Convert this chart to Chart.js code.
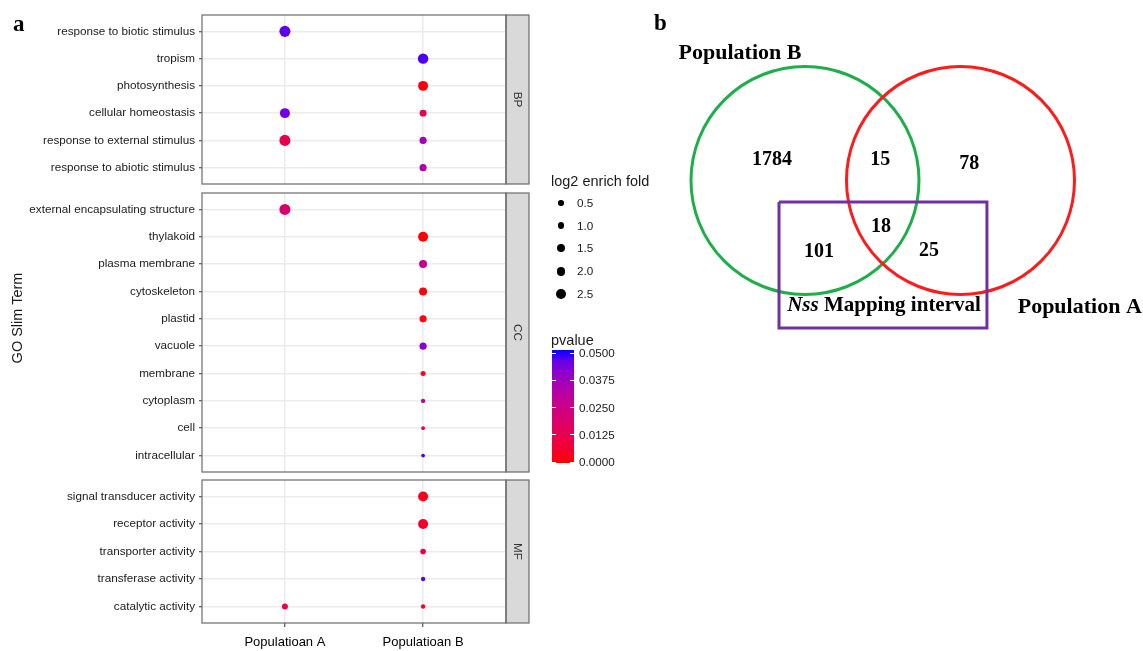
<!DOCTYPE html>
<html>
<head>
<meta charset="utf-8">
<script src="https://cdn.jsdelivr.net/npm/chart.js@4.4.1/dist/chart.umd.min.js"></script>
<style>
  body { margin: 0; background: #fff; }
  #page { position: relative; width: 1143px; height: 651px; overflow: hidden; font-family: "Liberation Sans", Arial, sans-serif; color: #1a1a1a; }
  canvas, .txt { position: absolute; }
  .txt { white-space: nowrap; }
  .serif { font-family: "Liberation Serif", "Times New Roman", serif; font-weight: bold; color: #000; }
</style>
</head>
<body>
<div id="page">
  <canvas id="bp" width="532" height="173" style="left:0;top:13px"></canvas>
  <canvas id="cc" width="532" height="283" style="left:0;top:191px"></canvas>
  <canvas id="mf" width="532" height="173" style="left:0;top:478px"></canvas>
  <canvas id="venn" width="503" height="340" style="left:640px;top:0"></canvas>
  <div class="txt serif" style="left:13px;top:12px;font-size:23px;line-height:23px">a</div>
  <div class="txt serif" style="left:654px;top:11px;font-size:23px;line-height:23px">b</div>
  <div class="txt" style="left:17px;top:318px;font-size:14.5px;transform:translate(-50%,-50%) rotate(-90deg)">GO Slim Term</div>
  <div id="legend"></div>
</div>
<script>
// axis categories
const populations = ["Populatioan A", "Populatioan B"];

// biological process
const bpTerms = ["response to biotic stimulus", "tropism", "photosynthesis",
  "cellular homeostasis", "response to external stimulus", "response to abiotic stimulus"];
const bpFoldA = [3.6, null, null, 2.9, 3.6, null];
const bpFoldB = [null, 3.2, 2.9, 1.3, 1.4, 1.4];
const bpPvalA = [0.046, null, null, 0.044, 0.0125, null];
const bpPvalB = [null, 0.0475, 0.001, 0.0125, 0.036, 0.0325];

// cellular component
const ccTerms = ["external encapsulating structure", "thylakoid", "plasma membrane", "cytoskeleton",
  "plastid", "vacuole", "membrane", "cytoplasm", "cell", "intracellular"];
const ccFoldA = [3.6, null, null, null, null, null, null, null, null, null];
const ccFoldB = [null, 2.9, 1.8, 1.8, 1.4, 1.4, 0.6, 0.4, 0.25, 0.25];
const ccPvalA = [0.019, null, null, null, null, null, null, null, null, null];
const ccPvalB = [null, 0.0005, 0.0275, 0.001, 0.002, 0.04, 0.003, 0.027, 0.0125, 0.048];

// molecular function
const mfTerms = ["signal transducer activity", "receptor activity", "transporter activity",
  "transferase activity", "catalytic activity"];
const mfFoldA = [null, null, null, null, 0.9];
const mfFoldB = [2.9, 2.9, 0.8, 0.4, 0.4];
const mfPvalA = [null, null, null, null, 0.01];
const mfPvalB = [0.003, 0.005, 0.013, 0.046, 0.004];

// legends
const sizeBreaks = [0.5, 1.0, 1.5, 2.0, 2.5];
const pvalBreaks = [0, 0.0125, 0.025, 0.0375, 0.05];

// venn diagram
const vennSets = ["Population B", "Population A"];
const vennCounts = [1784, 15, 78, 18, 101, 25];
const intervalGene = "Nss";
const intervalLabel = " Mapping interval";

// venn layout, in circle-radius units
const VENN = {
  centers: [[0, 0], [1.364, 0]],
  radius: 1,
  colors: ["#1fae4a", "#fb1c1c"],
  box: [[-0.228, -0.189], [1.596, -1.294]],
  countAt: [[-0.29, 0.18], [0.66, 0.18], [1.44, 0.145], [0.667, -0.41], [0.123, -0.627], [1.088, -0.618]],
  setLabelAt: [[-0.57, 1.12], [2.41, -1.11]],
  boxLabelAt: [0.693, -1.10],
  xRange: [-165 / 114, 338 / 114],
  yRange: [-159.5 / 114, 180.5 / 114],
  width: 503
};

const SANS = "'Liberation Sans', Arial, sans-serif";
const SERIF = "'Liberation Serif', 'Times New Roman', serif";

// size scale for log2 enrich fold
const dotR = (v) => Math.sqrt(1.5 + 8.05 * v);

// red -> blue gradient interpolated in Lab, like ggplot
function toLab(c) {
  const lin = (v) => { v /= 255; return v <= 0.04045 ? v / 12.92 : Math.pow((v + 0.055) / 1.055, 2.4); };
  const r = lin(c[0]), g = lin(c[1]), b = lin(c[2]);
  const f = (t) => t > 0.008856 ? Math.cbrt(t) : 7.787 * t + 16 / 116;
  const x = f((r * 0.4124 + g * 0.3576 + b * 0.1805) / 0.95047);
  const y = f(r * 0.2126 + g * 0.7152 + b * 0.0722);
  const z = f((r * 0.0193 + g * 0.1192 + b * 0.9505) / 1.08883);
  return [116 * y - 16, 500 * (x - y), 200 * (y - z)];
}
function fromLab(L, a, bb) {
  const fy = (L + 16) / 116, fx = a / 500 + fy, fz = fy - bb / 200;
  const fi = (t) => t * t * t > 0.008856 ? t * t * t : (t - 16 / 116) / 7.787;
  const x = 0.95047 * fi(fx), y = fi(fy), z = 1.08883 * fi(fz);
  const out = [x * 3.2406 - y * 1.5372 - z * 0.4986, -x * 0.9689 + y * 1.8758 + z * 0.0415, x * 0.0557 - y * 0.204 + z * 1.057];
  return "rgb(" + out.map((c) => {
    c = c > 0.0031308 ? 1.055 * Math.pow(c, 1 / 2.4) - 0.055 : 12.92 * c;
    return Math.round(Math.max(0, Math.min(1, c)) * 255);
  }).join(",") + ")";
}
const LOW = toLab([255, 0, 0]), HIGH = toLab([0, 0, 255]);
function pColor(p) {
  const t = Math.max(0, Math.min(1, p / 0.05));
  return fromLab(LOW[0] + (HIGH[0] - LOW[0]) * t, LOW[1] + (HIGH[1] - LOW[1]) * t, LOW[2] + (HIGH[2] - LOW[2]) * t);
}

// panel border + facet strip
const facetFrame = (strip) => ({
  id: "facetFrame",
  afterDraw(chart) {
    const { ctx, chartArea: a } = chart;
    ctx.save();
    ctx.fillStyle = "#d9d9d9";
    ctx.fillRect(a.right, a.top, 23, a.bottom - a.top);
    ctx.strokeStyle = "#6a6a6a";
    ctx.lineWidth = 1.2;
    ctx.strokeRect(a.right, a.top, 23, a.bottom - a.top);
    ctx.strokeRect(a.left, a.top, a.right - a.left, a.bottom - a.top);
    ctx.translate(a.right + 11.5, (a.top + a.bottom) / 2);
    ctx.rotate(Math.PI / 2);
    ctx.fillStyle = "#333";
    ctx.font = "11.7px " + SANS;
    ctx.textAlign = "center";
    ctx.textBaseline = "middle";
    ctx.fillText(strip, 0, 0);
    ctx.restore();
  }
});

function facetChart(id, strip, terms, foldA, pvalA, foldB, pvalB, showX) {
  const points = [];
  terms.forEach((t, i) => {
    if (foldA[i] != null) points.push({ x: 0, y: i, r: dotR(foldA[i]), p: pvalA[i] });
    if (foldB[i] != null) points.push({ x: 1, y: i, r: dotR(foldB[i]), p: pvalB[i] });
  });
  new Chart(document.getElementById(id), {
    type: "bubble",
    data: {
      datasets: [{
        data: points,
        backgroundColor: (c) => c.raw ? pColor(c.raw.p) : "#000",
        borderWidth: 0,
        clip: false
      }]
    },
    options: {
      responsive: false,
      animation: false,
      events: [],
      layout: { autoPadding: false, padding: { top: 2, right: 26, bottom: showX ? 0 : 2, left: 0 } },
      plugins: { legend: { display: false }, tooltip: { enabled: false } },
      scales: {
        x: {
          type: "linear",
          min: -0.6,
          max: 1.6,
          afterBuildTicks: (s) => { s.ticks = populations.map((_, i) => ({ value: i })); },
          afterFit: (s) => { s.height = showX ? 28 : 0; s.paddingLeft = 0; s.paddingRight = 0; },
          ticks: {
            display: showX,
            autoSkip: false,
            maxRotation: 0,
            padding: 8,
            color: "#000",
            font: { family: SANS, size: 13 },
            callback: (v) => populations[v]
          },
          grid: { color: "#ebebeb", lineWidth: 1.5, drawTicks: showX, tickLength: 4, tickColor: "#333", tickWidth: 1 },
          border: { display: false }
        },
        y: {
          type: "linear",
          reverse: true,
          min: -0.6,
          max: terms.length - 0.4,
          afterBuildTicks: (s) => { s.ticks = terms.map((_, i) => ({ value: i })); },
          afterFit: (s) => { s.width = 202; s.paddingTop = 0; s.paddingBottom = 0; },
          ticks: {
            autoSkip: false,
            padding: 4,
            color: "#1a1a1a",
            font: { family: SANS, size: 11.7 },
            callback: (v) => terms[v]
          },
          grid: { color: "#ebebeb", lineWidth: 1.5, tickLength: 3, tickColor: "#333", tickWidth: 1 },
          border: { display: false }
        }
      }
    },
    plugins: [facetFrame(strip)]
  });
}

facetChart("bp", "BP", bpTerms, bpFoldA, bpPvalA, bpFoldB, bpPvalB, false);
facetChart("cc", "CC", ccTerms, ccFoldA, ccPvalA, ccFoldB, ccPvalB, false);
facetChart("mf", "MF", mfTerms, mfFoldA, mfPvalA, mfFoldB, mfPvalB, true);

// legends (size + colourbar)
const legend = document.getElementById("legend");
let html = `<div class="txt" style="left:551px;top:172px;font-size:14.5px;line-height:18px">log2 enrich fold</div>`;
sizeBreaks.forEach((v, i) => {
  const y = 203 + i * 22.7, r = dotR(v) + 0.3;
  html += `<div class="txt" style="left:${561 - r}px;top:${y - r}px;width:${2 * r}px;height:${2 * r}px;border-radius:50%;background:#000"></div>`;
  html += `<div class="txt" style="left:577px;top:${y - 7}px;font-size:11.7px;line-height:14px">${v.toFixed(1)}</div>`;
});
html += `<div class="txt" style="left:551px;top:331px;font-size:14.5px;line-height:18px">pvalue</div>`;
const stops = [];
for (let k = 0; k <= 10; k++) stops.push(pColor(0.005 * k) + " " + (k * 10) + "%");
html += `<div class="txt" style="left:552px;top:350px;width:22px;height:113px;background:linear-gradient(to top, ${stops.join(",")})"></div>`;
pvalBreaks.forEach((p) => {
  const y = 462 - (p / 0.05) * 109;
  html += `<div class="txt" style="left:552px;top:${y - 0.5}px;width:4px;height:1px;background:#fff"></div>`;
  html += `<div class="txt" style="left:570px;top:${y - 0.5}px;width:4px;height:1px;background:#fff"></div>`;
  html += `<div class="txt" style="left:579px;top:${y - 7}px;font-size:11.7px;line-height:14px">${p.toFixed(4)}</div>`;
});
legend.innerHTML = html;

// venn diagram
const pxPerUnit = VENN.width / (VENN.xRange[1] - VENN.xRange[0]);
const [b0, b1] = VENN.box;
const vennText = {
  id: "vennText",
  afterDatasetsDraw(chart) {
    const { ctx, scales: { x, y } } = chart;
    ctx.save();
    ctx.fillStyle = "#000";
    ctx.textAlign = "center";
    ctx.textBaseline = "middle";
    ctx.font = "bold 20px " + SERIF;
    vennCounts.forEach((n, i) => {
      const [cx, cy] = VENN.countAt[i];
      ctx.fillText(String(n), x.getPixelForValue(cx), y.getPixelForValue(cy));
    });
    ctx.font = "bold 22px " + SERIF;
    vennSets.forEach((s, i) => {
      const [cx, cy] = VENN.setLabelAt[i];
      ctx.fillText(s, x.getPixelForValue(cx), y.getPixelForValue(cy));
    });
    // box label, gene name in italics
    const italic = "italic bold 21px " + SERIF, plain = "bold 21px " + SERIF;
    ctx.font = italic;
    const w1 = ctx.measureText(intervalGene).width;
    ctx.font = plain;
    const w2 = ctx.measureText(intervalLabel).width;
    const left = x.getPixelForValue(VENN.boxLabelAt[0]) - (w1 + w2) / 2;
    const ly = y.getPixelForValue(VENN.boxLabelAt[1]);
    ctx.textAlign = "left";
    ctx.font = italic;
    ctx.fillText(intervalGene, left, ly);
    ctx.font = plain;
    ctx.fillText(intervalLabel, left + w1, ly);
    ctx.restore();
  }
};

new Chart(document.getElementById("venn"), {
  type: "bubble",
  data: {
    datasets: [
      {
        type: "line",
        data: [
          { x: b0[0], y: b0[1] }, { x: b1[0], y: b0[1] },
          { x: b1[0], y: b1[1] }, { x: b0[0], y: b1[1] }, { x: b0[0], y: b0[1] }
        ],
        borderColor: "#7030a0",
        borderWidth: 3,
        borderJoinStyle: "miter",
        pointRadius: 0,
        tension: 0,
        fill: false,
        clip: false
      },
      {
        type: "bubble",
        data: VENN.centers.map(([cx, cy]) => ({ x: cx, y: cy, r: VENN.radius * pxPerUnit })),
        backgroundColor: "rgba(255,255,255,0)",
        borderColor: VENN.colors,
        borderWidth: 3,
        clip: false
      }
    ]
  },
  options: {
    responsive: false,
    animation: false,
    events: [],
    layout: { autoPadding: false, padding: 0 },
    plugins: { legend: { display: false }, tooltip: { enabled: false } },
    scales: {
      x: { type: "linear", display: false, min: VENN.xRange[0], max: VENN.xRange[1] },
      y: { type: "linear", display: false, min: VENN.yRange[0], max: VENN.yRange[1] }
    }
  },
  plugins: [vennText]
});
</script>
</body>
</html>
